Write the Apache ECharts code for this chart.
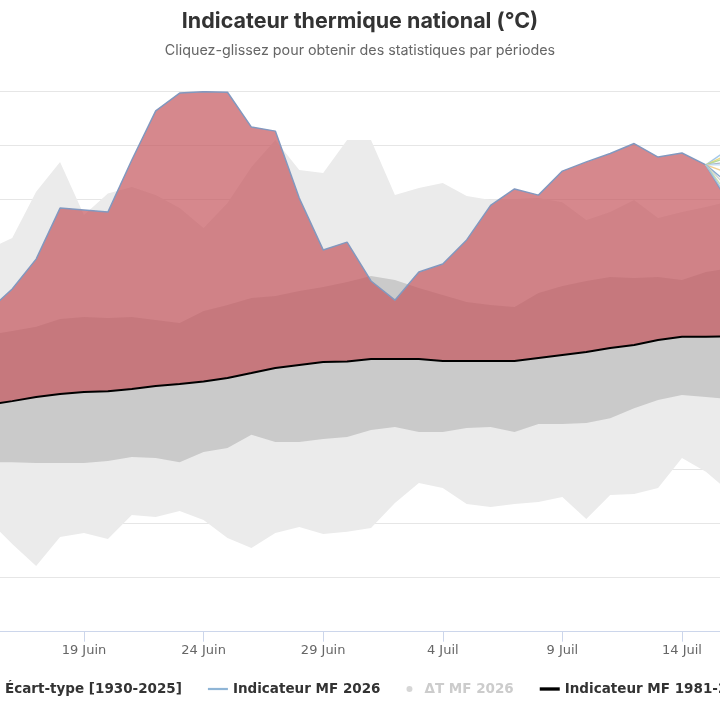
<!DOCTYPE html>
<html>
<head>
<meta charset="utf-8">
<script src="https://cdn.jsdelivr.net/npm/echarts@6/dist/echarts.min.js"></script>
<style>
  html, body { margin: 0; padding: 0; background: #fff; overflow: hidden; }
  #chart { width: 720px; height: 720px; }
</style>
</head>
<body>
<div id="chart"></div>
<script>
// 15 Juin -> 16 Juil, one point per day
const days = [
  "15 Juin", "16 Juin", "17 Juin", "18 Juin", "19 Juin", "20 Juin", "21 Juin", "22 Juin",
  "23 Juin", "24 Juin", "25 Juin", "26 Juin", "27 Juin", "28 Juin", "29 Juin", "30 Juin",
  "1 Juil", "2 Juil", "3 Juil", "4 Juil", "5 Juil", "6 Juil", "7 Juil", "8 Juil",
  "9 Juil", "10 Juil", "11 Juil", "12 Juil", "13 Juil", "14 Juil", "15 Juil", "16 Juil",
];

const recordMin = [
  14.14, 13.25, 12.43, 13.51, 13.66, 13.43, 14.32, 14.25, 14.47, 14.14, 13.47, 13.10,
  13.66, 13.88, 13.62, 13.70, 13.84, 14.77, 15.51, 15.32, 14.73, 14.62, 14.73, 14.80,
  14.99, 14.17, 15.06, 15.10, 15.32, 16.43, 15.92, 15.17,
];
const recordMax = [
  24.17, 24.58, 26.29, 27.40, 25.43, 26.23, 26.47, 26.17, 25.69, 24.95, 25.88, 27.21,
  28.21, 27.10, 26.99, 28.21, 28.21, 26.17, 26.43, 26.62, 26.14, 25.99, 26.03, 26.06,
  25.91, 25.25, 25.54, 25.99, 25.32, 25.54, 25.73, 25.95,
];
const stdLow = [
  16.28, 16.28, 16.25, 16.25, 16.25, 16.32, 16.47, 16.43, 16.28, 16.66, 16.80, 17.29,
  17.03, 17.03, 17.14, 17.21, 17.47, 17.58, 17.40, 17.40, 17.54, 17.58, 17.40, 17.69,
  17.69, 17.73, 17.91, 18.28, 18.58, 18.77, 18.69, 18.62,
];
const stdHigh = [
  20.99, 21.14, 21.29, 21.58, 21.66, 21.62, 21.66, 21.54, 21.43, 21.88, 22.10, 22.36,
  22.43, 22.62, 22.77, 22.95, 23.17, 23.03, 22.73, 22.47, 22.21, 22.10, 22.03, 22.54,
  22.80, 22.99, 23.14, 23.10, 23.14, 23.03, 23.32, 23.47,
];
const normal = [
  18.40, 18.54, 18.69, 18.80, 18.88, 18.91, 18.99, 19.10, 19.17, 19.27, 19.40, 19.58,
  19.77, 19.88, 19.99, 20.01, 20.10, 20.10, 20.10, 20.03, 20.03, 20.03, 20.03, 20.14,
  20.25, 20.36, 20.51, 20.62, 20.80, 20.92, 20.92, 20.95,
];
const indicator2026 = [
  21.88, 22.69, 23.80, 25.69, 25.62, 25.54, 27.47, 29.29, 29.95, 30.00, 29.98, 28.69,
  28.54, 26.06, 24.14, 24.43, 22.99, 22.28, 23.32, 23.62, 24.51, 25.79, 26.40, 26.17,
  27.06, 27.40, 27.71, 28.08, 27.58, 27.73, 27.29, 25.80,
];
// forecast members, value reached on 16 Juil (they start from the 15 Juil point)
const memberEnd = [27.90, 27.71, 27.60, 27.40, 27.29, 26.97, 26.55, 26.36, 26.10, 25.92];
const memberColors = [
  "#9ec5e8", "#e9d77c", "#b0d894", "#a9b3c8", "#bcdcf2",
  "#f0cc8c", "#7fa7d0", "#cfcfcf", "#c4e2a8", "#a3c4de",
];

const LABEL_FONT = "'DejaVu Sans', sans-serif";
const LAST = days.length - 1;

const range = (hi, lo) => hi.map((v, i) => +(v - lo[i]).toFixed(2));
const everyFive = (index) => (index - 4) % 5 === 0;

const memberSeries = memberEnd.map((end, m) => ({
  name: "membre " + (m + 1),
  type: "line",
  symbol: "none",
  silent: true,
  data: days.map((_, i) => (i === LAST - 1 ? indicator2026[i] : i === LAST ? end : null)),
  lineStyle: { color: memberColors[m], width: 1.4, opacity: 0.95 },
  z: 5,
}));

const chart = echarts.init(document.getElementById("chart"), null, { renderer: "canvas" });

chart.setOption({
  animation: false,
  backgroundColor: "#ffffff",
  title: {
    text: "Indicateur thermique national (°C)",
    subtext: "Cliquez-glissez pour obtenir des statistiques par périodes",
    left: "center",
    top: 6,
    itemGap: 11,
    textStyle: { fontFamily: "Inter", fontWeight: "bold", fontSize: 21.5, color: "#333333" },
    subtextStyle: { fontFamily: "Inter", fontSize: 14.3, color: "#666666" },
  },
  legend: {
    left: -25,
    top: 677,
    width: 900,
    itemWidth: 20,
    itemHeight: 6,
    itemGap: 26,
    inactiveColor: "#cccccc",
    textStyle: { fontFamily: LABEL_FONT, fontWeight: "bold", fontSize: 13.5, color: "#333333" },
    selected: { "ΔT MF 2026": false },
    data: [
      { name: "Écart-type [1930-2025]", icon: "rect" },
      {
        name: "Indicateur MF 2026",
        icon: "path://M0,0 L18,0 L18,2 L0,2 Z",
        itemStyle: { color: "#8fb5d6", borderWidth: 0 },
      },
      { name: "ΔT MF 2026", icon: "circle" },
      {
        name: "Indicateur MF 1981-2010",
        icon: "path://M0,0 L18,0 L18,3 L0,3 Z",
        itemStyle: { color: "#000000", borderWidth: 0 },
      },
    ],
  },
  grid: {
    left: -11.7,
    right: -9.8,
    top: 91.7,
    bottom: 88.3,
    containLabel: false,
    outerBoundsMode: "none",
  },
  xAxis: {
    type: "category",
    boundaryGap: false,
    data: days,
    axisLine: { lineStyle: { color: "#ccd6eb", width: 1 } },
    axisTick: { interval: everyFive, length: 10, lineStyle: { color: "#ccd6eb" } },
    axisLabel: { interval: everyFive, margin: 12, color: "#666666", fontSize: 13, fontFamily: LABEL_FONT },
    splitLine: { show: false },
  },
  yAxis: {
    type: "value",
    min: 10,
    max: 30,
    interval: 2,
    axisLabel: { show: false },
    axisLine: { show: false },
    axisTick: { show: false },
    splitLine: { lineStyle: { color: "#e6e6e6", width: 1 } },
  },
  series: [
    {
      name: "recBase", type: "line", stack: "rec", symbol: "none", silent: true,
      data: recordMin, lineStyle: { opacity: 0 },
    },
    {
      name: "Records [1930-2025]", type: "line", stack: "rec", symbol: "none", silent: true,
      data: range(recordMax, recordMin), lineStyle: { opacity: 0 },
      areaStyle: { color: "#ebebeb", opacity: 1 },
    },
    {
      name: "stdBase", type: "line", stack: "std", symbol: "none", silent: true,
      data: stdLow, lineStyle: { opacity: 0 },
    },
    {
      name: "Écart-type [1930-2025]", type: "line", stack: "std", symbol: "none", silent: true,
      color: "#cacaca",
      data: range(stdHigh, stdLow), lineStyle: { opacity: 0 },
      areaStyle: { color: "#cacaca", opacity: 1 },
    },
    {
      name: "anomBase", type: "line", stack: "anom", symbol: "none", silent: true,
      data: normal, lineStyle: { opacity: 0 },
    },
    {
      name: "anomalie", type: "line", stack: "anom", symbol: "none", silent: true,
      data: range(indicator2026, normal), lineStyle: { opacity: 0 },
      areaStyle: { color: "rgba(197, 85, 92, 0.7)", opacity: 1 },
    },
    {
      name: "Indicateur MF 1981-2010", type: "line", symbol: "none",
      data: normal, color: "#000000",
      lineStyle: { color: "#000000", width: 2 },
      z: 4,
    },
    {
      name: "Indicateur MF 2026", type: "line", symbol: "none",
      data: indicator2026, color: "#8298bf",
      lineStyle: { color: "#8298bf", width: 1.5 },
      z: 4,
    },
    ...memberSeries,
    {
      name: "ΔT MF 2026", type: "scatter", symbolSize: 6, color: "#888888",
      data: range(indicator2026, normal),
    },
  ],
});
</script>
</body>
</html>
